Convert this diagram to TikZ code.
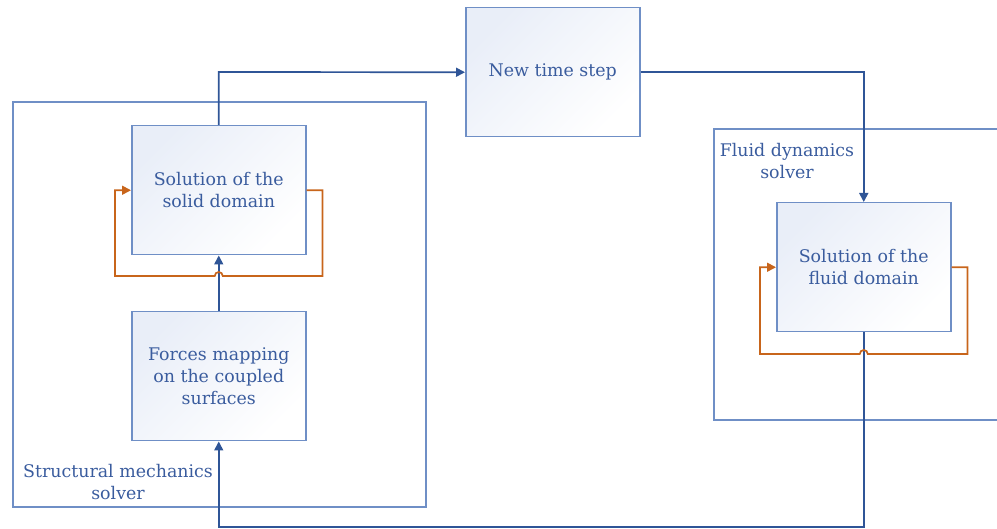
\documentclass[tikz,border=0pt]{standalone}
\usepackage{fontspec}
\setmainfont{DejaVu Serif}
\usetikzlibrary{arrows.meta,calc}
\definecolor{lineblue}{HTML}{2F5597}
\definecolor{boxblue}{HTML}{6F8FC6}
\definecolor{txtblue}{HTML}{3A5C9E}
\definecolor{loop}{HTML}{C8651B}
\definecolor{shadeblue}{HTML}{E9EEF8}
\begin{document}
\begin{tikzpicture}[x=1pt,y=-1pt,
  procbox/.style={draw=boxblue, line width=1.5pt, top color=shadeblue, bottom color=white, shading angle=45,
    minimum width=174pt, minimum height=129pt, inner sep=0pt, align=center, text=txtblue,
    font=\fontsize{17.4}{22}\selectfont, anchor=north west},
  group/.style={draw=boxblue, line width=1.5pt},
  grouplabel/.style={text=txtblue, align=center, font=\fontsize{17.4}{22}\selectfont, inner sep=0pt},
  flow/.style={draw=lineblue, line width=1.7pt, -{Triangle[length=9pt,width=9pt]}},
  loopline/.style={draw=loop, line width=1.7pt, -{Triangle[length=9pt,width=9pt]}}]
\useasboundingbox (0,0) rectangle (997,529);
% groups
\draw[group] (13,102) rectangle (426,507);
\draw[group] (1002,129) -- (714,129) -- (714,420) -- (1002,420);
\node[grouplabel] (lblS) at (118,482) {Structural mechanics\\solver};
\node[grouplabel] (lblF) at (787,161) {Fluid dynamics\\solver};
% boxes
\node[procbox] (solid) at (131,125) {Solution of the\\solid domain};
\node[procbox] (forces) at (131,311) {Forces mapping\\on the coupled\\surfaces};
\node[procbox] (nts) at (465,7) {New time step};
\node[procbox] (fluid) at (776,202) {Solution of the\\fluid domain};
\coordinate (top) at (0,72);
\coordinate (bot) at (0,527);
\coordinate (sl) at (0,276);
\coordinate (fl) at (0,354);
% main flow
\draw[flow] (solid.north) -- (solid.north |- top) -- (nts.west);
\draw[flow] (nts.east) -| (fluid.north);
\draw[flow] (fluid.south) -- (fluid.south |- bot) -| (forces.south);
\draw[flow] (forces.north) -- (solid.south);
% loops
\draw[loopline] (solid.east) -- ++(16,0) |- ([xshift=4pt]solid.south |- sl)
  arc[start angle=0,end angle=180,radius=4pt] -- ([xshift=-16pt]solid.west |- sl) |- (solid.west);
\draw[loopline] (fluid.east) -- ++(16,0) |- ([xshift=4pt]fluid.south |- fl)
  arc[start angle=0,end angle=180,radius=4pt] -- ([xshift=-16pt]fluid.west |- fl) |- (fluid.west);
\end{tikzpicture}
\end{document}
